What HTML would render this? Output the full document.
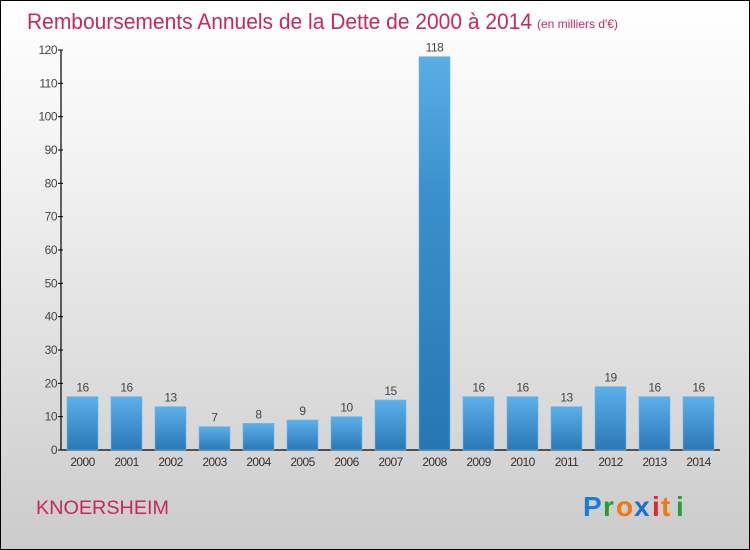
<!DOCTYPE html>
<html><head><meta charset="utf-8"><style>
body{margin:0}
#c{width:750px;height:550px;position:relative;box-sizing:border-box;border:1px solid #000;background:linear-gradient(#fff,#f2f2f2 30%,#cbcbcb);font-family:"Liberation Sans",sans-serif;overflow:hidden}
</style></head><body>
<div id="c">
<svg width="750" height="550" style="position:absolute;left:-1px;top:-1px" id="svg">
<defs>
<linearGradient id="g" x1="0" y1="0" x2="0" y2="1"><stop offset="0" stop-color="#5cb0ea"/><stop offset="1" stop-color="#2a78b6"/></linearGradient>
<linearGradient id="g2" x1="0" y1="0" x2="0" y2="1"><stop offset="0" stop-color="#5aaee6"/><stop offset="0.35" stop-color="#3a90cc"/><stop offset="1" stop-color="#2676b2"/></linearGradient>
</defs>
<text x="27" y="29" font-size="22" fill="#c8285a" textLength="505" lengthAdjust="spacingAndGlyphs">Remboursements Annuels de la Dette de 2000 à 2014</text>
<text x="537" y="28" font-size="12" fill="#c8285a">(en milliers d'€)</text>
<g id="axes"></g>
<g id="bars"></g>
<text x="36" y="514" font-size="19" fill="#c8285a" textLength="133" lengthAdjust="spacingAndGlyphs">KNOERSHEIM</text>
<g font-size="28" font-weight="bold" font-family="Liberation Sans,sans-serif">
<text x="583" y="516" fill="#1a7fd4">P</text><text x="603" y="516" fill="#2a9a3a">r</text><text x="616" y="516" fill="#f07a10">o</text><text x="634" y="516" fill="#1a6fd0">x</text><text x="652" y="516" fill="#e02828">i</text><text x="661" y="516" fill="#f07a10">t</text><text x="676" y="516" fill="#2a9a3a">i</text>
</g>
</svg>
</div>
<script>
const years=["2000","2001","2002","2003","2004","2005","2006","2007","2008","2009","2010","2011","2012","2013","2014"];
const values=[16,16,13,7,8,9,10,15,118,16,16,13,19,16,16];
const yTicks=[0,10,20,30,40,50,60,70,80,90,100,110,120];
const NS="http://www.w3.org/2000/svg";
const x0=61,x1=720,y0=450,yTop=50,yMax=120;
const y=v=>y0-(v/yMax)*(y0-yTop);
const xc=i=>82.5+i*44;
function mk(t,a,p){const e=document.createElementNS(NS,t);for(const k in a)e.setAttribute(k,a[k]);p.appendChild(e);return e;}
const ax=document.getElementById('axes'),bs=document.getElementById('bars');
let l=mk('line',{x1:x0,y1:yTop,x2:x0,y2:y0,stroke:'#000','stroke-width':1.2},ax);


l=mk('line',{x1:x0,y1:y0,x2:x1,y2:y0,stroke:'#000','stroke-width':1.2},ax);


yTicks.forEach(v=>{
 const tk=mk('line',{x1:x0-3,y1:y(v),x2:x0+2,y2:y(v),stroke:'#000'},ax);
 
 
 const t=mk('text',{x:x0-4,y:y(v)+4,'font-size':12,fill:'#444','text-anchor':'end','letter-spacing':'-0.5'},ax);
 t.textContent=v;
 
 
});
values.forEach((v,i)=>{
 const r=mk('rect',{x:xc(i)-15.5,y:y(v),width:31,height:y0-y(v),fill:v===Math.max(...values)?'url(#g2)':'url(#g)',stroke:'#6ab8ee','stroke-width':0.6},bs);
 
 
 const t=mk('text',{x:xc(i),y:y(v)-5,'font-size':12,fill:'#444','text-anchor':'middle','letter-spacing':'-0.5'},bs);
 t.textContent=v;
 
 
 const xl=mk('text',{x:xc(i),y:466,'font-size':12,fill:'#333','text-anchor':'middle','letter-spacing':'-0.6'},bs);
 xl.textContent=years[i];
 
 
});
</script>
</body></html>
